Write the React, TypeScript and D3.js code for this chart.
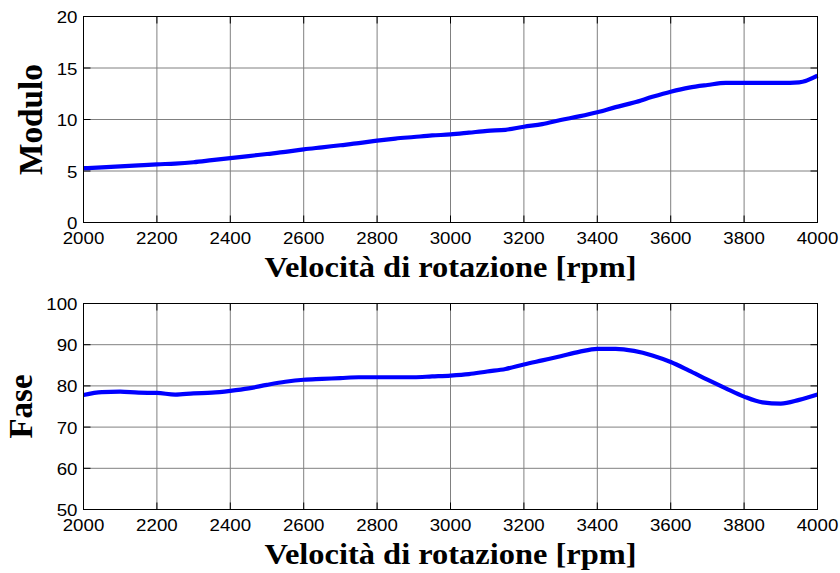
import React from "react";
import * as d3 from "d3";

const rpm = [
  2000, 2050, 2100, 2150, 2200, 2250, 2300, 2350, 2400, 2450, 2500, 2550, 2600, 2650,
  2700, 2750, 2800, 2850, 2900, 2950, 3000, 3050, 3100, 3150, 3200, 3250, 3300, 3350,
  3400, 3450, 3500, 3550, 3600, 3650, 3700, 3750, 3800, 3850, 3900, 3950, 4000,
];
const modulo = [
  5.27, 5.35, 5.45, 5.55, 5.65, 5.72, 5.85, 6.05, 6.25, 6.45, 6.65, 6.85, 7.1, 7.3,
  7.5, 7.7, 7.95, 8.15, 8.3, 8.45, 8.55, 8.72, 8.9, 9.0, 9.3, 9.55, 9.95, 10.3,
  10.7, 11.2, 11.65, 12.2, 12.7, 13.1, 13.35, 13.55, 13.55, 13.55, 13.55, 13.6, 14.25,
];
const fase = [
  77.8, 78.5, 78.6, 78.35, 78.3, 77.9, 78.2, 78.35, 78.8, 79.4, 80.25, 81.0, 81.5, 81.7,
  81.9, 82.1, 82.1, 82.1, 82.1, 82.3, 82.5, 82.85, 83.5, 84.1, 85.2, 86.2, 87.2, 88.25,
  89.0, 89.0, 88.5, 87.4, 85.8, 83.7, 81.5, 79.4, 77.4, 76.0, 75.7, 76.6, 77.9,
];
const xTicks = [2000, 2200, 2400, 2600, 2800, 3000, 3200, 3400, 3600, 3800, 4000];
const moduloTicks = [0, 5, 10, 15, 20];
const faseTicks = [50, 60, 70, 80, 90, 100];
const xLabel = "Velocità di rotazione [rpm]";

const L = 83.5;
const R = 817.5;

type PanelProps = {
  top: number;
  bottom: number;
  domain: [number, number];
  ticks: number[];
  values: number[];
  ylabel: string;
  ylabelX: number;
  ylabelLen: number;
};

function Panel({ top, bottom, domain, ticks, values, ylabel, ylabelX, ylabelLen }: PanelProps) {
  const x = d3.scaleLinear().domain([2000, 4000]).range([L, R]);
  const y = d3.scaleLinear().domain(domain).range([bottom, top]);
  const line = d3
    .line<number>()
    .x((_, i) => x(rpm[i]))
    .y((v) => y(v))
    .curve(d3.curveMonotoneX);
  const tl = 7;
  const tickFont = { fontFamily: "Arial, 'Liberation Sans', sans-serif", fontSize: 17 };
  return (
    <g>
      {xTicks.map((t) => (
        <line key={"gx" + t} x1={x(t)} x2={x(t)} y1={top} y2={bottom} stroke="#808080" strokeWidth={1} />
      ))}
      {ticks.map((t) => (
        <line key={"gy" + t} x1={L} x2={R} y1={y(t)} y2={y(t)} stroke="#808080" strokeWidth={1} />
      ))}
      {xTicks.map((t) => (
        <g key={"tx" + t}>
          <line x1={x(t)} x2={x(t)} y1={bottom} y2={bottom - tl} stroke="#000" />
          <line x1={x(t)} x2={x(t)} y1={top} y2={top + tl} stroke="#000" />
        </g>
      ))}
      {ticks.map((t) => (
        <g key={"ty" + t}>
          <line x1={L} x2={L + tl} y1={y(t)} y2={y(t)} stroke="#000" />
          <line x1={R} x2={R - tl} y1={y(t)} y2={y(t)} stroke="#000" />
        </g>
      ))}
      <path d={line(values) || ""} fill="none" stroke="#0000ff" strokeWidth={4.2} strokeLinejoin="round" />
      <rect x={L} y={top} width={R - L} height={bottom - top} fill="none" stroke="#000" strokeWidth={1} />
      {xTicks.map((t) => (
        <text
          key={"lx" + t}
          transform={`translate(${x(t)},${bottom + 21.5}) scale(1.1,1)`}
          textAnchor="middle"
          style={tickFont}
          fill="#000"
        >
          {t}
        </text>
      ))}
      {ticks.map((t) => (
        <text
          key={"ly" + t}
          transform={`translate(${L - 6},${y(t) + 6.5}) scale(1.1,1)`}
          textAnchor="end"
          style={tickFont}
          fill="#000"
        >
          {t}
        </text>
      ))}
      <text
        transform={`translate(${(L + R) / 2},${bottom + 54}) `}
        textAnchor="middle"
        textLength={372}
        lengthAdjust="spacingAndGlyphs"
        style={{ fontFamily: "'Times New Roman', 'Liberation Serif', serif", fontSize: 30, fontWeight: "bold" }}
        fill="#000"
      >
        {xLabel}
      </text>
      <text
        transform={`translate(${ylabelX},${(top + bottom) / 2}) rotate(-90)`}
        textAnchor="middle"
        textLength={ylabelLen}
        lengthAdjust="spacingAndGlyphs"
        style={{ fontFamily: "'Times New Roman', 'Liberation Serif', serif", fontSize: 33, fontWeight: "bold" }}
        fill="#000"
      >
        {ylabel}
      </text>
    </g>
  );
}

export default function App() {
  return (
    <svg
      width={840}
      height={573}
      style={{ position: "absolute", left: 0, top: 0, background: "#fff" }}
    >
      <rect x={0} y={0} width={840} height={573} fill="#fff" />
      <Panel
        top={16.5}
        bottom={222.5}
        domain={[0, 20]}
        ticks={moduloTicks}
        values={modulo}
        ylabel="Modulo"
        ylabelX={41.5}
        ylabelLen={111}
      />
      <Panel
        top={303.5}
        bottom={509.5}
        domain={[50, 100]}
        ticks={faseTicks}
        values={fase}
        ylabel="Fase"
        ylabelX={31.5}
        ylabelLen={64}
      />
    </svg>
  );
}
